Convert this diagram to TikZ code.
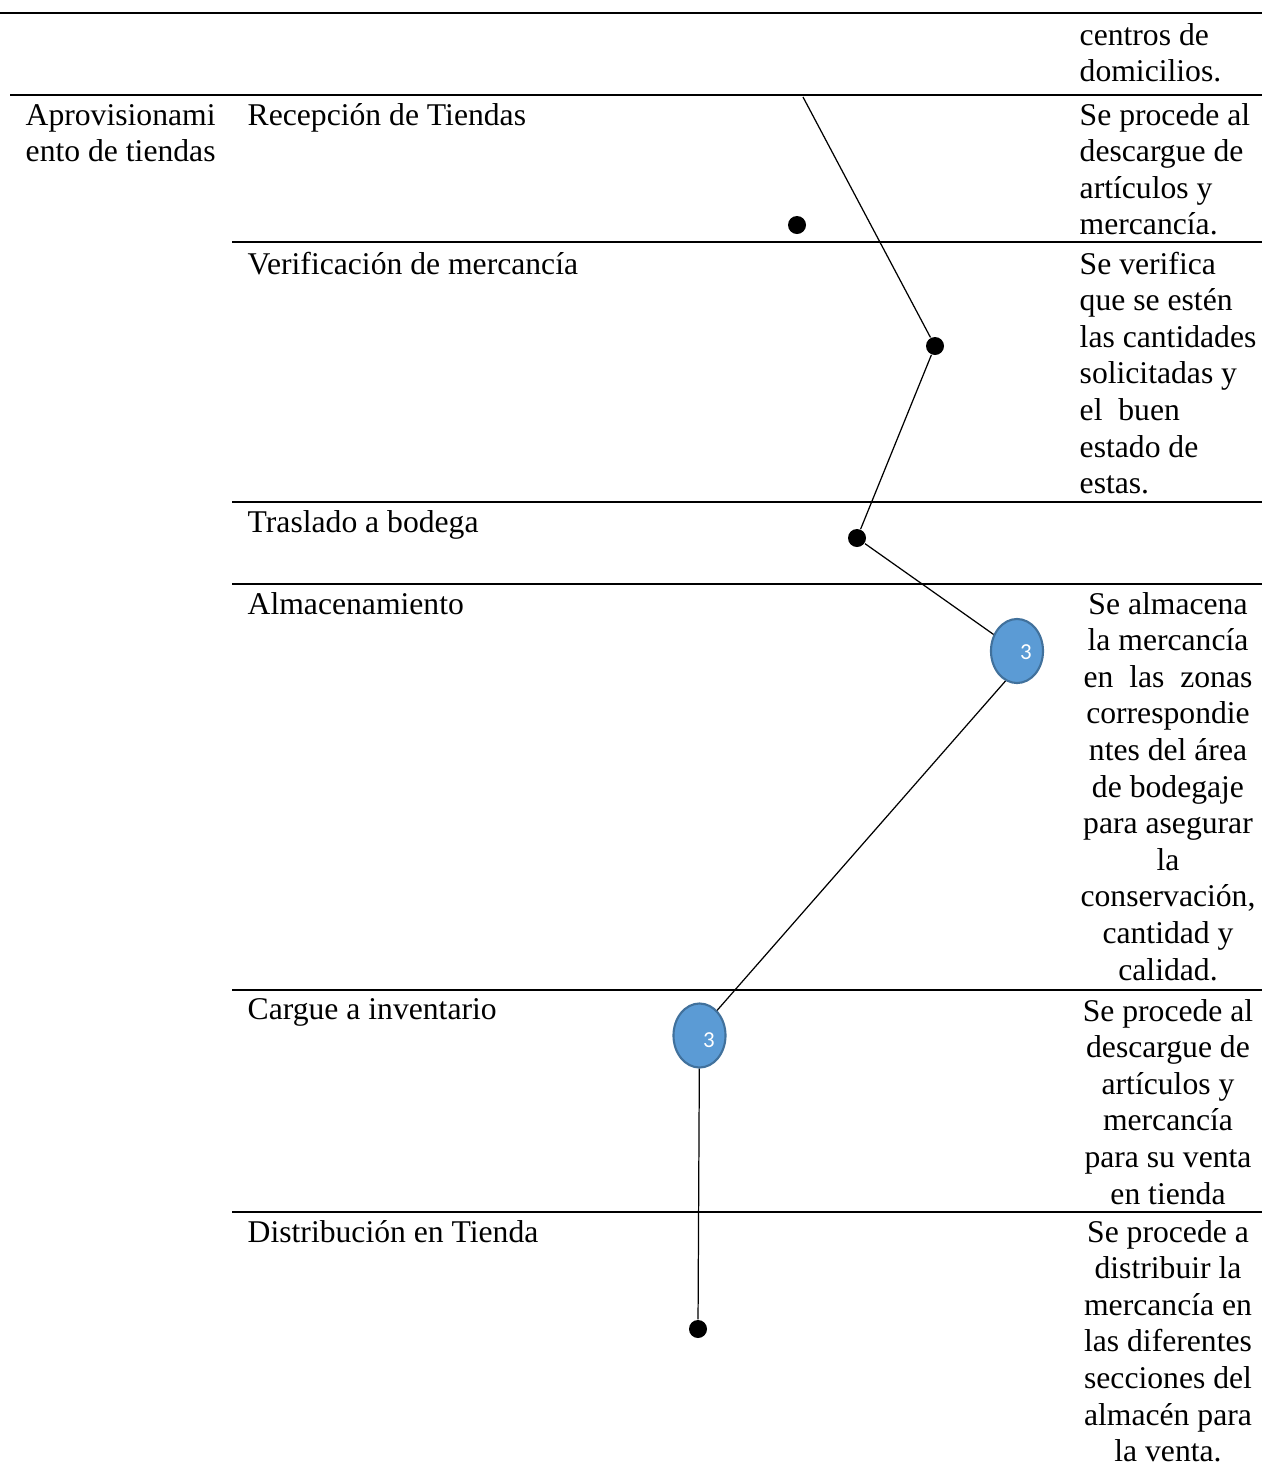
\documentclass[tikz,border=0pt]{standalone}
\usepackage{fontspec}
\setmainfont{Liberation Serif}
\newfontfamily\labelfont{Carlito}
\usetikzlibrary{shapes.geometric}

\definecolor{stageblue}{HTML}{5B9BD5}
\definecolor{stageedge}{HTML}{41719C}

% one text line per node, baselines 36.6 units apart
\newcommand\textlines[5]{%
  \foreach \ln [count=\k from 0] in {#5}{%
    \node[txt, anchor=#4, name=#1-\k] at (#2, #3+36.6*\k) {\ln};
  }}

\begin{document}
\begin{tikzpicture}[x=0.01cm, y=-0.01cm,
  txt/.style={inner sep=0pt, font=\fontsize{9}{11}\selectfont},
  rule/.style={line width=0.55pt},
  link/.style={line width=0.35pt},
  dot/.style={circle, fill=black, inner sep=0pt, minimum size=0.18cm},
  stage/.style={ellipse, fill=stageblue, draw=stageedge, line width=0.6pt,
                inner sep=0pt, minimum width=0.52cm, minimum height=0.64cm},
  stagenum/.style={inner sep=0pt, text=white, font=\labelfont\fontsize{6.5}{7}\selectfont}]

\useasboundingbox (0,0) rectangle (1262,1466);

% table rules
\draw[rule] (0,13) -- (1262,13);
\draw[rule] (10,95) -- (1262,95);
\foreach \yy in {242,502,584,990,1212}
  \draw[rule] (232,\yy) -- (1262,\yy);

% first column
\textlines{proc}{25}{125}{base west}{Aprovisionami,ento de tiendas}

% activity column
\node[txt, anchor=base west] (a1) at (247,125) {Recepción de Tiendas};
\node[txt, anchor=base west] (a2) at (247,274) {Verificación de mercancía};
\node[txt, anchor=base west] (a3) at (247,532) {Traslado a bodega};
\node[txt, anchor=base west] (a4) at (247,614) {Almacenamiento};
\node[txt, anchor=base west] (a5) at (247,1019) {Cargue a inventario};
\node[txt, anchor=base west] (a6) at (247,1242) {Distribución en Tienda};

% description column
\textlines{r0}{1079}{45}{base west}{centros de,domicilios.}
\textlines{r1}{1079}{125}{base west}{Se procede al,descargue de,artículos y,mercancía.}
\textlines{r2}{1079}{274}{base west}{Se verifica,que se estén,las cantidades,solicitadas y,el~ buen,estado de,estas.}
\textlines{r4}{1168}{614}{base}{Se almacena,la mercancía,en~ las~ zonas,correspondie,ntes del área,de bodegaje,para asegurar,la,{conservación,},cantidad y,calidad.}
\textlines{r5}{1168}{1021}{base}{Se procede al,descargue de,artículos y,mercancía,para su venta,en tienda}
\textlines{r6}{1168}{1242}{base}{Se procede a,distribuir la,mercancía en,las diferentes,secciones del,almacén para,la venta.}

% flow markers
\node[dot] (d1) at (797,225) {};
\node[dot] (d2) at (935,346) {};
\node[dot] (d3) at (857,538) {};
\node[stage] (e1) at (1017,651) {};
\node[stagenum] (n1) at (1026,652) {3};
\node[stage] (e2) at (699.5,1035.5) {};
\node[stagenum] (n2) at (709,1040) {3};
\node[dot] (d4) at (698,1329) {};
\coordinate (start) at (803,97);

% flow line
\draw[link] (start) -- (d2) -- (d3) -- (e1);
\draw[link] (e1.249) -- (e2.55);
\draw[link] (e2) -- (d4);

\end{tikzpicture}
\end{document}
